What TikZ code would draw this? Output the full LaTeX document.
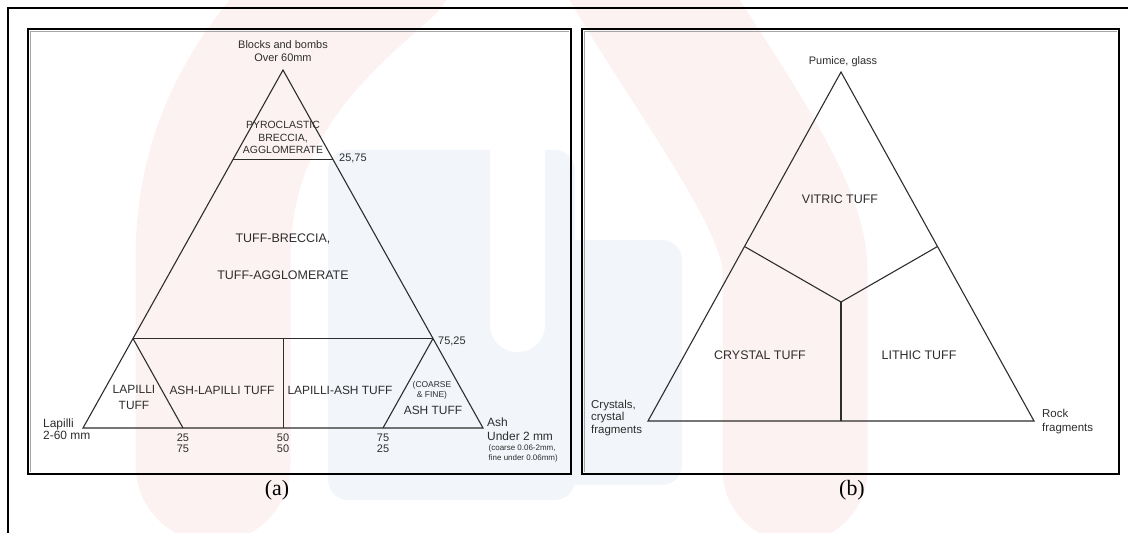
\documentclass[tikz,border=0pt]{standalone}
\usepackage{fontspec}
\setmainfont{Liberation Sans}
\newfontfamily\capfont{Liberation Serif}
\definecolor{wmpink}{RGB}{253,242,242}
\definecolor{wmblue}{RGB}{242,246,250}
\definecolor{ink}{RGB}{45,45,45}
\begin{document}
\begin{tikzpicture}[x=1bp,y=-1bp,
  tri/.style={draw=ink, line width=1.1bp, line join=miter},
  lbl/.style={text=ink, inner sep=0pt, align=center, font=\fontsize{12}{16}\selectfont},
  sml/.style={text=ink, inner sep=0pt, align=center, font=\fontsize{11}{12.5}\selectfont},
  smlw/.style={sml, anchor=west, align=left},
  tinyl/.style={text=ink, inner sep=0pt, align=center, font=\fontsize{8.5}{10}\selectfont},
  panel/.style={draw=black, line width=2bp},
  shade/.style={draw=black!35, line width=1.2bp},
  capt/.style={inner sep=0pt, font=\capfont\fontsize{22}{24}\selectfont}]
\useasboundingbox (0,0) rectangle (1128,533);
% faint watermark
\fill[wmblue, rounded corners=20bp] (328,150) rectangle (575,500);
\fill[wmblue, rounded corners=20bp] (560,240) rectangle (682,485);
\fill[white, rounded corners=27bp] (490,-10) rectangle (545,352);
\draw[wmpink, line width=155bp, line cap=round] (213,465) -- (213,260) .. controls (213,110) and (300,30) .. (380,-40);
\draw[wmpink, line width=145bp, line cap=round] (795,470) -- (795,270) .. controls (795,200) and (700,80) .. (630,-40);
% outer frame
\draw[panel] (8,533) -- (8,8) -- (1128,8);
% panels
\draw[shade] (30.5,472) -- (30.5,31.5) -- (569,31.5);
\draw[panel] (28,29) rectangle (571,474);
\draw[shade] (584.5,472) -- (584.5,31.5) -- (1117,31.5);
\draw[panel] (582,29) rectangle (1119,474);

% ---------- panel (a) ----------
\coordinate (aA) at (283,70);
\coordinate (aL) at (83,428);
\coordinate (aR) at (483,428);
\coordinate (a25l) at (233,159.5);
\coordinate (a25r) at (333,159.5);
\coordinate (a75l) at (133,338.5);
\coordinate (a75r) at (433,338.5);
\coordinate (b25) at (183,428);
\coordinate (b50) at (283.5,428);
\coordinate (b75) at (383,428);
\coordinate (m50) at (283.5,338.5);
\draw[tri] (aA) -- (aL) -- (aR) -- cycle;
\draw[tri] (a25l) -- (a25r);
\draw[tri] (a75l) -- (a75r);
\draw[tri] (a75l) -- (b25);
\draw[tri, line width=0.9bp] (m50) -- (b50);
\draw[tri] (a75r) -- (b75);

\node[sml] (blocks) at (283,51) {Blocks and bombs\\Over 60mm};
\node[sml, font=\fontsize{10.5}{12.5}\selectfont] (pyro) at (283,137.5) {PYROCLASTIC\\BRECCIA,\\AGGLOMERATE};
\node[smlw] (t2575) at (339,158) {25,75};
\node[lbl, font=\fontsize{12.5}{14}\selectfont] (tb) at (283,239) {TUFF-BRECCIA,};
\node[lbl, font=\fontsize{12.5}{14}\selectfont] (ta) at (283,275) {TUFF-AGGLOMERATE};
\node[smlw] (t7525) at (438,341) {75,25};
\node[lbl] (lt) at (134,397) {LAPILLI\\TUFF};
\node[lbl] (alt) at (222,390) {ASH-LAPILLI TUFF};
\node[lbl] (lat) at (340,390) {LAPILLI-ASH TUFF};
\node[tinyl] (cf) at (432,390) {(COARSE\\\& FINE)};
\node[lbl] (at) at (433,410.5) {ASH TUFF};
\node[lbl, anchor=west, align=left, font=\fontsize{12}{12.5}\selectfont] (lap) at (43,429) {Lapilli\\2-60 mm};
\node[sml, font=\fontsize{11}{11}\selectfont] (n25) at (183,443) {25\\75};
\node[sml, font=\fontsize{11}{11}\selectfont] (n50) at (283,443) {50\\50};
\node[sml, font=\fontsize{11}{11}\selectfont] (n75) at (383,443) {75\\25};
\node[lbl, anchor=west, align=left, font=\fontsize{12}{14}\selectfont] (ash) at (487,429) {Ash\\Under 2 mm};
\node[tinyl, align=left, anchor=east, font=\fontsize{8}{10}\selectfont] (coarse) at (558,453) {(coarse 0.06-2mm,\\fine under 0.06mm)};
\node[capt] (capa) at (277,490) {(a)};

% ---------- panel (b) ----------
\coordinate (bA) at (841,72);
\coordinate (bL) at (648,421);
\coordinate (bR) at (1034,421);
\coordinate (bml) at (744.5,246.5);
\coordinate (bmr) at (937.5,246.5);
\coordinate (bc) at (841,302);
\coordinate (bb) at (841,421);
\draw[tri] (bA) -- (bL) -- (bR) -- cycle;
\draw[tri] (bml) -- (bc) -- (bmr);
\draw[tri] (bc) -- (bb);

\node[sml] (pum) at (843,62) {Pumice, glass};
\node[lbl, font=\fontsize{12.5}{14}\selectfont] (vit) at (840,199) {VITRIC TUFF};
\node[lbl, font=\fontsize{12.5}{14}\selectfont] (cry) at (760,355) {CRYSTAL TUFF};
\node[lbl, font=\fontsize{12.5}{14}\selectfont] (lit) at (919,355) {LITHIC TUFF};
\node[smlw, font=\fontsize{11.5}{13}\selectfont] (cryst) at (591,418) {Crystals,\\crystal\\fragments};
\node[smlw, font=\fontsize{11.5}{14}\selectfont] (rock) at (1042,422) {Rock\\fragments};
\node[capt] (capb) at (852,490) {(b)};
\end{tikzpicture}
\end{document}
